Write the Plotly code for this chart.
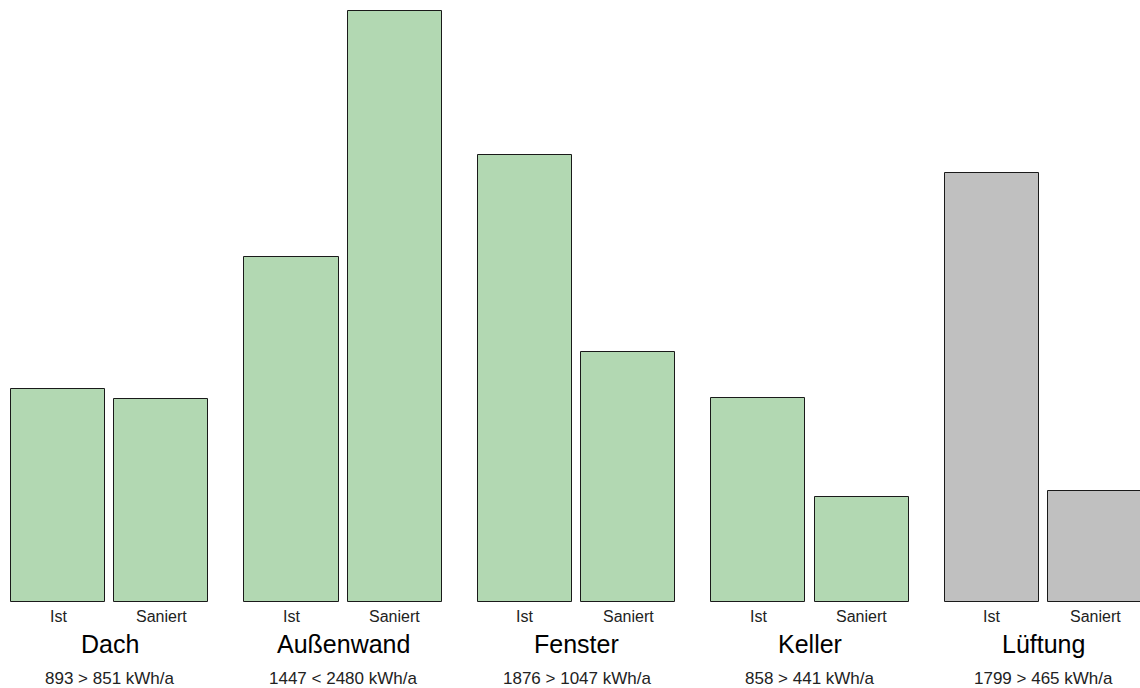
import plotly.graph_objects as go

groups = ["Dach", "Außenwand", "Fenster", "Keller", "Lüftung"]
ist = [893, 1447, 1876, 858, 1799]
saniert = [851, 2480, 1047, 441, 465]
bar_labels = ["Ist", "Saniert"]
group_colors = ["#B2D8B2", "#B2D8B2", "#B2D8B2", "#B2D8B2", "#C0C0C0"]

offset = 0.2206
width = 0.4026
x_ist = [i - offset for i in range(len(groups))]
x_san = [i + offset for i in range(len(groups))]

fig = go.Figure()
line = dict(color="#1a1a1a", width=1)
fig.add_trace(go.Bar(x=x_ist, y=ist, width=width,
                     marker=dict(color=group_colors, line=line),
                     showlegend=False, hoverinfo="skip"))
fig.add_trace(go.Bar(x=x_san, y=saniert, width=width,
                     marker=dict(color=group_colors, line=line),
                     showlegend=False, hoverinfo="skip"))

font_family = "Liberation Sans, Arial, sans-serif"
annotations = []
plot_bottom = 602
for i, g in enumerate(groups):
    for xv, lab in ((x_ist[i], bar_labels[0]), (x_san[i], bar_labels[1])):
        annotations.append(dict(x=xv, y=0, xref="x", yref="paper", text=lab,
                                showarrow=False, yanchor="middle", xanchor="center",
                                yshift=-(616 - plot_bottom),
                                font=dict(family=font_family, size=16, color="#222222")))
    annotations.append(dict(x=i, y=0, xref="x", yref="paper", text=g,
                            showarrow=False, yanchor="middle", xanchor="center",
                            yshift=-(644 - plot_bottom),
                            font=dict(family=font_family, size=25, color="#000000")))
    a, b = ist[i], saniert[i]
    sign = ">" if a > b else "<"
    annotations.append(dict(x=i, y=0, xref="x", yref="paper",
                            text=f"{a} {sign} {b} kWh/a",
                            showarrow=False, yanchor="middle", xanchor="center",
                            yshift=-(678 - plot_bottom),
                            font=dict(family=font_family, size=17, color="#222222")))

fig.update_layout(
    width=1140, height=688,
    margin=dict(l=0, r=0, t=0, b=86, pad=0),
    paper_bgcolor="white", plot_bgcolor="white",
    xaxis=dict(range=[-0.469, 4.4133], visible=False, fixedrange=True),
    yaxis=dict(range=[0, 2526], visible=False, fixedrange=True),
    annotations=annotations,
    bargap=0,
)

fig.write_html("out.html")
